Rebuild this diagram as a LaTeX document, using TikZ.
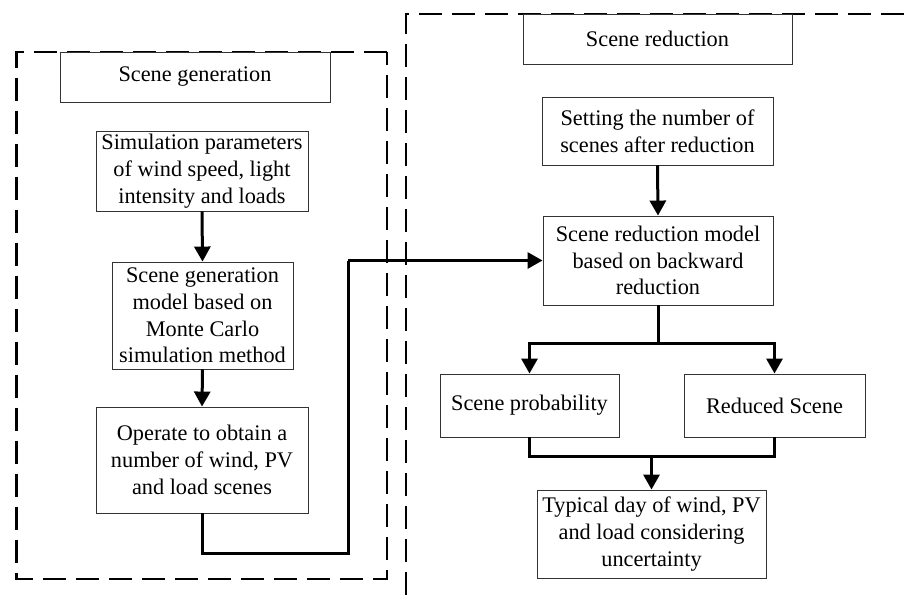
\documentclass[tikz,border=0pt]{standalone}
\usepackage{fontspec}
\setmainfont{Liberation Serif}
\usetikzlibrary{arrows.meta}
\begin{document}
\begin{tikzpicture}[x=1pt,y=-1pt,
  box/.style={draw=black!80, line width=0.9pt, align=center, inner sep=1pt,
    font=\fontsize{22.3}{26.8}\selectfont},
  flow/.style={line width=3pt, -{Triangle[width=16pt,length=15pt]}},
  plain/.style={line width=3pt},
  frame/.style={line width=2.6pt, dash pattern=on 23pt off 10pt}]
\useasboundingbox (0,0) rectangle (904,603);
% frames
\draw[frame] (387,52) -- (16.5,52) -- (16.5,579) -- (387,579) -- cycle;
\draw[frame] (904,14) -- (406,14) -- (406,603);
% nodes
\node[box, minimum width=270pt, minimum height=50pt, fill=white] (gt) at (195,77) {Scene generation};
\node[box, minimum width=212pt, minimum height=80pt] (sim) at (202,171) {Simulation parameters\\of wind speed, light\\intensity and loads};
\node[box, minimum width=181pt, minimum height=107pt] (mc) at (202.5,315.5) {Scene generation\\model based on\\Monte Carlo\\simulation method};
\node[box, minimum width=212pt, minimum height=106pt] (op) at (202,460) {Operate to obtain a\\number of wind, PV\\and load scenes};
\node[box, minimum width=269pt, minimum height=50pt, fill=white] (rt) at (657.5,39) {Scene reduction};
\node[box, minimum width=231pt, minimum height=68pt] (set) at (657.5,131) {Setting the number of\\scenes after reduction};
\node[box, minimum width=230pt, minimum height=89pt] (brm) at (658,260.5) {Scene reduction model\\based on backward\\reduction};
\node[box, minimum width=179pt, minimum height=63pt] (prob) at (529.5,405.5) {Scene probability};
\node[box, minimum width=181pt, minimum height=63pt] (rs) at (774.5,405.5) {Reduced Scene};
\node[box, minimum width=229pt, minimum height=88pt] (typ) at (651.5,534) {Typical day of wind, PV\\and load considering\\uncertainty};
% coordinates
\coordinate (c1) at (348,553);
\coordinate (c2) at (348,260.5);
\coordinate (s1) at (658,343);
\coordinate (m1) at (651.5,456);
% connectors
\draw[flow] (sim.south) -- (mc.north);
\draw[flow] (mc.south) -- (op.north);
\draw[plain, line join=miter] (op.south) |- (c1) -- (c2);
\draw[flow] (c2) -- (brm.west);
\draw[flow] (set.south) -- (brm.north);
\draw[plain] (brm.south) -- (s1);
\draw[flow] (s1) -| (prob.north);
\draw[flow] (s1) -| (rs.north);
\draw[plain] (prob.south) |- (m1) -| (rs.south);
\draw[flow] (m1) -- (typ.north);
\end{tikzpicture}
\end{document}
